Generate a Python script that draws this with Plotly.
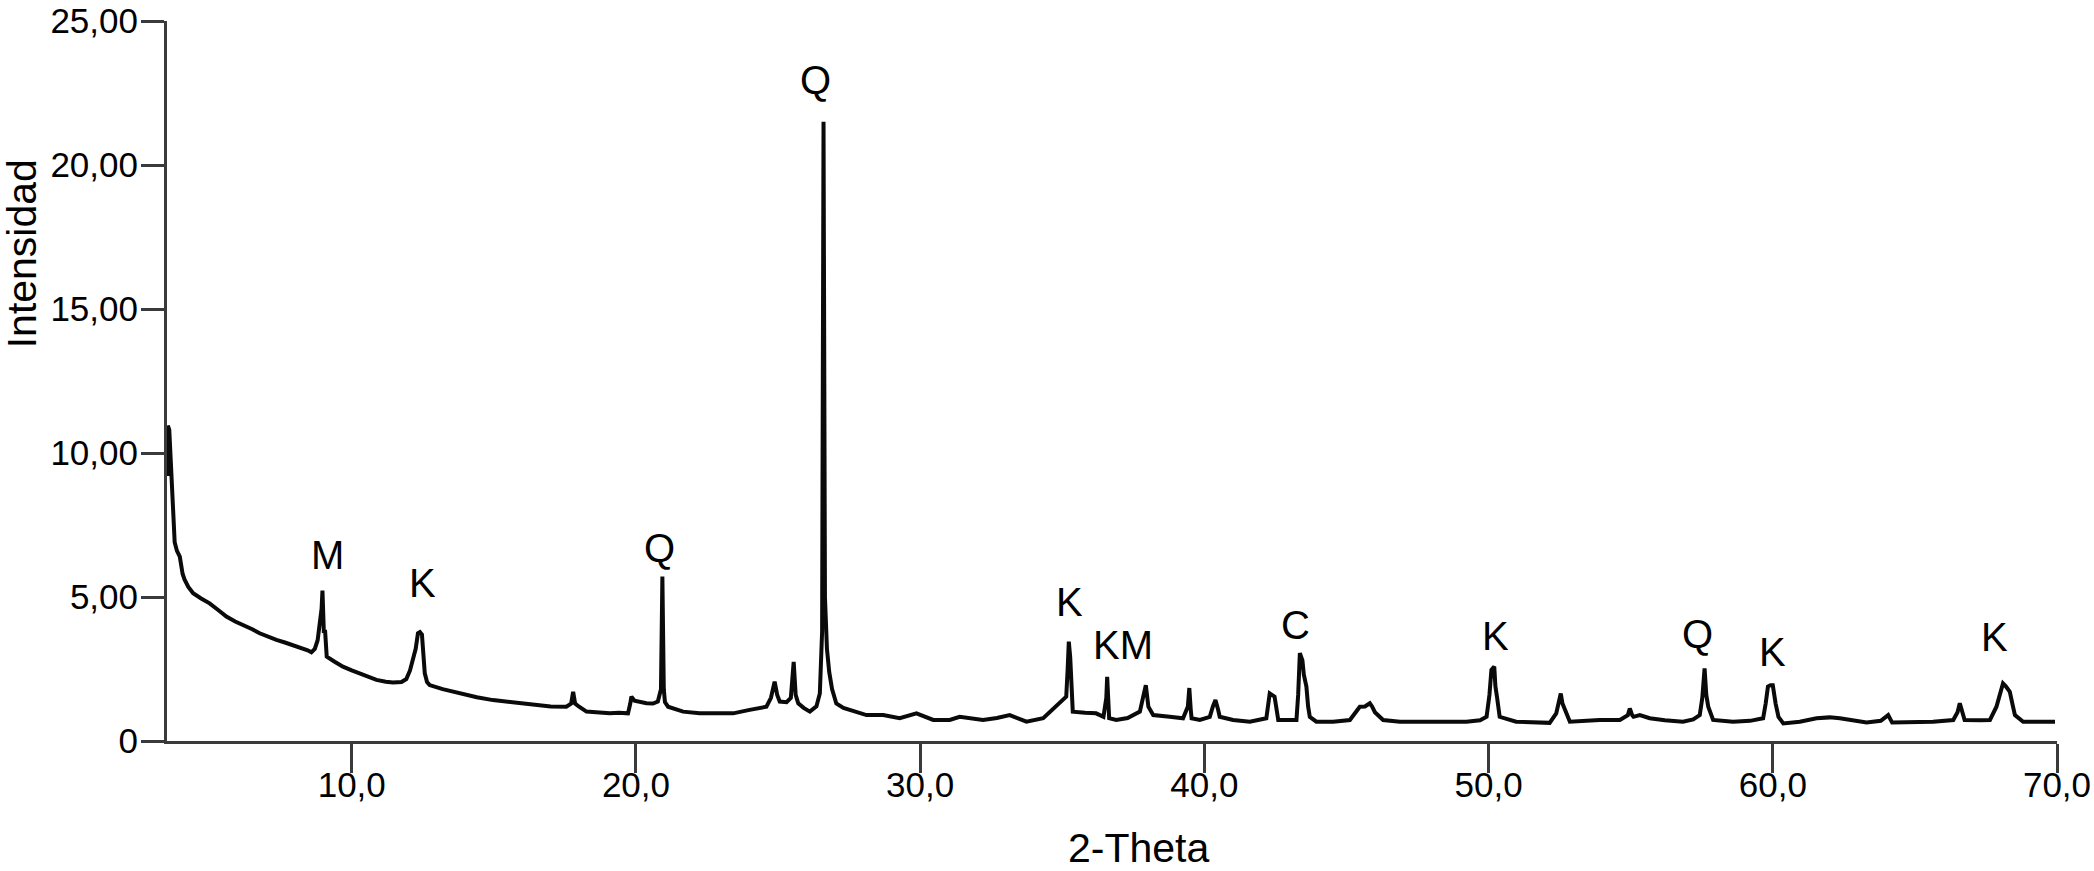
import plotly.graph_objects as go

# ---- data ----
two_theta = [
    3.52, 3.53, 3.58, 3.63, 3.68, 3.73, 3.77, 3.85, 3.95, 4.05, 4.12, 4.25, 4.42, 4.7, 5.0,
    5.3, 5.59, 5.9, 6.18, 6.5, 6.76, 7.05, 7.35, 7.65, 7.93, 8.25, 8.45, 8.58, 8.7, 8.8,
    8.87, 8.94, 8.97, 9.0, 9.02, 9.06, 9.09, 9.12, 9.4, 9.69, 10.0, 10.28, 10.6, 10.87, 11.2,
    11.45, 11.75, 11.92, 12.05, 12.16, 12.25, 12.33, 12.4, 12.47, 12.52, 12.57, 12.65, 12.74, 13.2, 13.8,
    14.4, 14.97, 15.5, 16.0, 16.38, 17.0, 17.55, 17.72, 17.79, 17.86, 18.0, 18.26, 18.6, 19.08, 19.4,
    19.72, 19.8, 19.84, 19.95, 20.1, 20.37, 20.6, 20.77, 20.88, 20.93, 20.98, 21.02, 21.13, 21.4, 21.66,
    22.24, 22.8, 23.42, 24.0, 24.59, 24.75, 24.88, 24.97, 25.06, 25.3, 25.45, 25.55, 25.62, 25.71, 25.9,
    26.12, 26.35, 26.47, 26.55, 26.6, 26.65, 26.72, 26.8, 26.9, 27.05, 27.3, 27.52, 28.11, 28.7, 29.28,
    29.87, 30.46, 31.04, 31.39, 32.21, 32.7, 33.15, 33.74, 34.33, 34.79, 35.14, 35.19, 35.23, 35.28, 35.32,
    35.37, 35.8, 36.19, 36.45, 36.55, 36.58, 36.61, 36.65, 36.9, 37.3, 37.73, 37.85, 37.94, 38.03, 38.2,
    38.78, 39.25, 39.42, 39.47, 39.52, 39.55, 39.84, 40.19, 40.3, 40.39, 40.48, 40.54, 41.01, 41.6, 42.18,
    42.25, 42.3, 42.47, 42.55, 42.6, 43.24, 43.3, 43.36, 43.45, 43.5, 43.59, 43.65, 43.71, 43.94, 44.53,
    45.12, 45.3, 45.47, 45.65, 45.82, 45.9, 46.0, 46.29, 46.88, 48.05, 49.22, 49.7, 49.93, 50.03, 50.1,
    50.2, 50.24, 50.3, 50.39, 50.97, 51.6, 52.15, 52.38, 52.48, 52.54, 52.6, 52.68, 52.86, 53.91, 54.62,
    54.9, 54.97, 55.05, 55.1, 55.32, 55.67, 56.2, 56.84, 57.2, 57.43, 57.52, 57.6, 57.66, 57.73, 57.9,
    58.6, 59.2, 59.66, 59.75, 59.83, 59.92, 60.0, 60.1, 60.2, 60.37, 60.95, 61.54, 62.0, 62.36, 62.8,
    63.3, 63.8, 64.06, 64.2, 65.0, 65.64, 66.35, 66.5, 66.58, 66.66, 66.75, 67.3, 67.64, 67.87, 68.0,
    68.1, 68.2, 68.34, 68.45, 68.52, 68.81, 69.4, 69.93,
]
intensity = [
    9.2, 10.95, 10.8, 9.8, 8.5, 7.6, 6.9, 6.6, 6.4, 5.8, 5.6, 5.35, 5.13, 4.95, 4.78,
    4.55, 4.32, 4.15, 4.03, 3.88, 3.74, 3.62, 3.51, 3.42, 3.33, 3.2, 3.15, 3.08, 3.2, 3.5,
    3.97, 4.6, 5.22, 4.2, 3.75, 3.86, 3.4, 2.93, 2.75, 2.58, 2.45, 2.35, 2.22, 2.12, 2.06,
    2.03, 2.05, 2.15, 2.45, 2.93, 3.2, 3.74, 3.78, 3.7, 3.0, 2.35, 2.05, 1.94, 1.8, 1.65,
    1.52, 1.42, 1.36, 1.3, 1.25, 1.2, 1.19, 1.3, 1.71, 1.3, 1.19, 1.02, 1.0, 0.96, 0.98,
    0.96, 1.3, 1.54, 1.4, 1.37, 1.31, 1.3, 1.37, 1.8, 5.71, 1.8, 1.35, 1.19, 1.1, 1.02,
    0.96, 0.95, 0.96, 1.08, 1.19, 1.5, 2.06, 1.6, 1.37, 1.35, 1.5, 2.75, 1.6, 1.31, 1.15,
    1.02, 1.2, 1.65, 3.8, 21.5, 5.0, 3.2, 2.4, 1.8, 1.3, 1.15, 1.08, 0.9, 0.9, 0.79,
    0.96, 0.73, 0.73, 0.84, 0.73, 0.8, 0.9, 0.67, 0.79, 1.19, 1.54, 2.5, 3.45, 2.9, 1.6,
    1.02, 0.98, 0.96, 0.84, 1.5, 2.23, 1.4, 0.79, 0.73, 0.8, 1.02, 1.5, 1.94, 1.19, 0.9,
    0.84, 0.79, 1.2, 1.84, 1.1, 0.79, 0.73, 0.84, 1.2, 1.42, 1.1, 0.84, 0.73, 0.67, 0.79,
    1.3, 1.65, 1.54, 1.0, 0.73, 0.73, 1.6, 3.05, 2.8, 2.3, 1.89, 1.2, 0.84, 0.67, 0.67,
    0.73, 0.95, 1.19, 1.2, 1.31, 1.2, 1.0, 0.73, 0.67, 0.67, 0.67, 0.72, 0.84, 1.6, 2.47,
    2.58, 1.9, 1.5, 0.84, 0.67, 0.64, 0.63, 0.96, 1.4, 1.65, 1.3, 1.1, 0.67, 0.73, 0.73,
    0.9, 1.13, 0.9, 0.84, 0.9, 0.79, 0.72, 0.67, 0.75, 0.9, 1.5, 2.52, 1.6, 1.19, 0.73,
    0.67, 0.7, 0.79, 1.3, 1.89, 1.94, 1.94, 1.3, 0.84, 0.61, 0.67, 0.79, 0.82, 0.79, 0.72,
    0.64, 0.7, 0.9, 0.64, 0.66, 0.67, 0.73, 1.0, 1.31, 1.0, 0.73, 0.72, 0.73, 1.19, 1.7,
    2.0, 1.9, 1.71, 1.2, 0.9, 0.67, 0.67, 0.67,
]

peak_labels = ["M", "K", "Q", "Q", "K", "KM", "C", "K", "Q", "K", "K"]
peak_label_x = [9.16, 12.48, 20.84, 26.33, 35.26, 37.12, 43.2, 50.25, 57.34, 59.98, 67.81]
peak_label_y = [6.46, 5.50, 6.69, 22.95, 4.84, 3.33, 4.03, 3.65, 3.72, 3.10, 3.60]

x_tickvals = [10, 20, 30, 40, 50, 60, 70]
x_ticktext = ["10,0", "20,0", "30,0", "40,0", "50,0", "60,0", "70,0"]
y_tickvals = [0, 5, 10, 15, 20, 25]
y_ticktext = ["0", "5,00", "10,00", "15,00", "20,00", "25,00"]

x_title = "2-Theta"
y_title = "Intensidad"

FONT = "Liberation Sans, Arial, Helvetica, sans-serif"
AXIS_COLOR = "#3a3a3a"

fig = go.Figure()
fig.add_trace(go.Scatter(
    x=two_theta, y=intensity, mode="lines",
    line=dict(color="#0a0a0a", width=4),
    showlegend=False, hoverinfo="skip",
))

for lab, lx, ly in zip(peak_labels, peak_label_x, peak_label_y):
    fig.add_annotation(x=lx, y=ly, xref="x", yref="y", text=lab, showarrow=False,
                       font=dict(family=FONT, size=40, color="#000000"),
                       xanchor="center", yanchor="middle")

fig.add_annotation(x=0.514, y=-0.148, xref="paper", yref="paper", text=x_title,
                   showarrow=False, font=dict(family=FONT, size=41, color="#000000"),
                   xanchor="center", yanchor="middle")
fig.add_annotation(x=-0.0767, y=0.676, xref="paper", yref="paper", text=y_title,
                   showarrow=False, textangle=-90,
                   font=dict(family=FONT, size=41, color="#000000"),
                   xanchor="center", yanchor="middle")

fig.update_layout(
    template="none",
    width=2094, height=871,
    margin=dict(l=167, r=37, t=21, b=130, pad=0, autoexpand=False),
    paper_bgcolor="white", plot_bgcolor="white",
    font=dict(family=FONT, color="#000000"),
    xaxis=dict(
        range=[3.5, 70], showgrid=False, zeroline=False, automargin=False,
        showline=True, linecolor=AXIS_COLOR, linewidth=3,
        ticks="outside", ticklen=29, tickwidth=3, tickcolor=AXIS_COLOR,
        tickvals=x_tickvals, ticktext=x_ticktext, ticklabelstandoff=-18,
        tickfont=dict(family=FONT, size=35, color="#000000"),
    ),
    yaxis=dict(
        range=[0, 25], showgrid=False, zeroline=False, automargin=False,
        showline=True, linecolor=AXIS_COLOR, linewidth=3,
        ticks="outside", ticklen=23, tickwidth=3, tickcolor=AXIS_COLOR,
        tickvals=y_tickvals, ticktext=y_ticktext, ticklabelstandoff=-4,
        tickfont=dict(family=FONT, size=35, color="#000000"),
    ),
)

# remove the page's default body margin so the figure sits at the window's origin
fig.write_html(
    "out.html",
    config={"displayModeBar": False, "staticPlot": True},
    post_script="document.body.style.margin='0px';document.body.style.overflow='hidden';",
)
